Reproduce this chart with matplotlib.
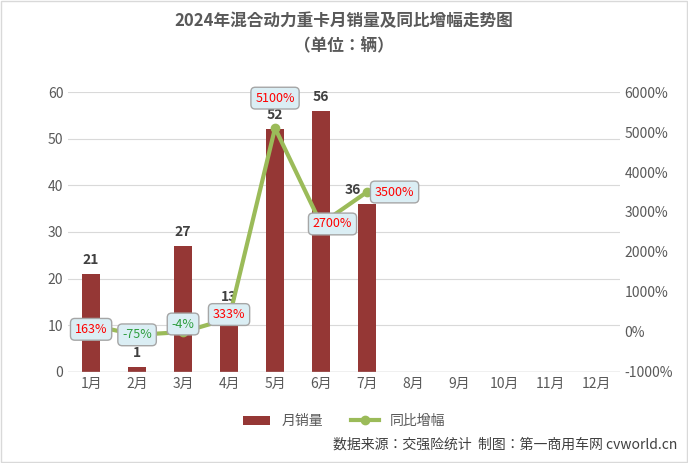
import matplotlib.pyplot as plt
from matplotlib import font_manager
from matplotlib.patches import Rectangle

cjk = sorted(f.name for f in font_manager.fontManager.ttflist if 'Sans CJK' in f.name)
plt.rcParams['font.family'] = (cjk[:1] if cjk else []) + ['DejaVu Sans']

months = ['1月', '2月', '3月', '4月', '5月', '6月', '7月', '8月', '9月', '10月', '11月', '12月']
sales = [21, 1, 27, 13, 52, 56, 36]
yoy = [163, -75, -4, 333, 5100, 2700, 3500]
yoy_labels = ['163%', '-75%', '-4%', '333%', '5100%', '2700%', '3500%']

fig = plt.figure(figsize=(6.88, 4.63), dpi=100)
fig.patches.append(Rectangle((0.002, 0.002), 0.996, 0.996, transform=fig.transFigure,
                             fill=False, edgecolor='#d9d9d9', lw=1))
ax = fig.add_axes([0.099, 0.197, 0.802, 0.604])
ax2 = ax.twinx()

x = list(range(len(months)))
ax.bar(x[:len(sales)], sales, width=0.4, color='#953735', label='月销量')
lab_dx = [0, 0, 0, 0, 0, 0, -0.3]
for i, v in enumerate(sales):
    ax.text(i + lab_dx[i], v + 1.5, str(v), ha='center', va='bottom', fontsize=10, fontweight='bold', color='#404040')
ax.set_ylim(0, 60)
ax.set_yticks(range(0, 61, 10))
ax.set_xlim(-0.5, 11.5)
ax.set_xticks(x)
ax.set_xticklabels(months)

ax2.plot(x[:len(yoy)], yoy, color='#9BBB59', lw=3, marker='o', markersize=6, label='同比增幅')
ax2.set_ylim(-1000, 6000)
ax2.set_yticks(range(-1000, 6001, 1000))
ax2.set_yticklabels([f'{v}%' for v in range(-1000, 6001, 1000)])

offsets = [(0, -100), (0, 0), (0, 200), (0, 100), (0, 750), (0.25, 0), (0.6, 0)]
for i, (v, lab) in enumerate(zip(yoy, yoy_labels)):
    dx, dy = offsets[i]
    c = '#2e9e3e' if v < 0 else '#ff0000'
    ax2.text(i + dx, v + dy, lab, ha='center', va='center', fontsize=9, color=c,
             bbox=dict(boxstyle='round,pad=0.35', fc='#dbeef4', ec='#a6a6a6', lw=1))

for a in (ax, ax2):
    for s in a.spines.values():
        s.set_visible(False)
    a.tick_params(length=0, colors='#595959', labelsize=10)
ax.grid(axis='y', color='#d9d9d9', lw=0.8)
ax.set_axisbelow(True)
ax.axhline(0, color='#bfbfbf', lw=1)

fig.text(0.5, 0.955, '2024年混合动力重卡月销量及同比增幅走势图', ha='center', va='center',
         fontsize=12, fontweight='bold', color='#595959')
fig.text(0.5, 0.9, '（单位：辆）', ha='center', va='center', fontsize=12, fontweight='bold', color='#595959')

h1, l1 = ax.get_legend_handles_labels()
h2, l2 = ax2.get_legend_handles_labels()
fig.legend(h1 + h2, l1 + l2, loc='center', bbox_to_anchor=(0.5, 0.09), ncol=2, frameon=False,
           fontsize=10, labelcolor='#595959')
fig.text(0.985, 0.025, '数据来源：交强险统计  制图：第一商用车网 cvworld.cn', ha='right', va='bottom',
         fontsize=10, color='#404040')

fig.savefig('out.png')
